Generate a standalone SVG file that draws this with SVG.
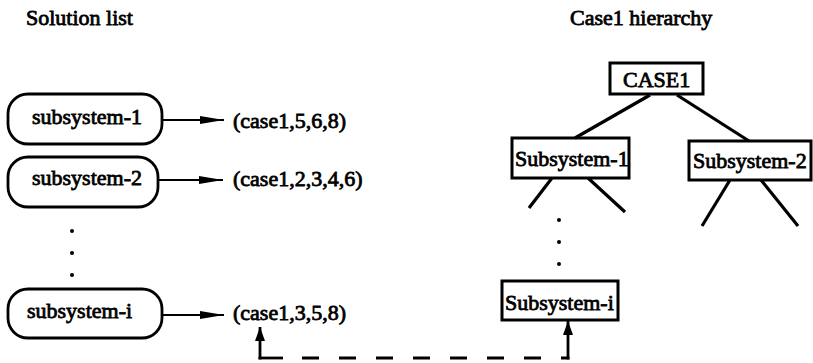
<svg xmlns="http://www.w3.org/2000/svg" width="813" height="363" viewBox="0 0 813 363">
  <style>
    .t { font-family: "Liberation Serif", "Times New Roman", serif; font-size: 22px; fill: #000; stroke: #000; stroke-width: 0.8; }
    .pill { fill: #fff; stroke: #000; stroke-width: 2.8; }
    .box { fill: #fff; stroke: #000; stroke-width: 3; }
    .edge { stroke: #000; stroke-width: 3.2; fill: none; }
    .arrow { stroke: #000; stroke-width: 2; fill: none; }
    .link { stroke: #000; stroke-width: 2.8; fill: none; }
    .dash { stroke: #000; stroke-width: 2.8; fill: none; stroke-dasharray: 17 20; }
    .dot { fill: #000; }
  </style>
  <defs>
    <marker id="head" viewBox="0 0 24 8" refX="24" refY="4" markerWidth="24" markerHeight="8" markerUnits="userSpaceOnUse" orient="auto">
      <path d="M0,0 L24,4 L0,8 z" fill="#000"/>
    </marker>
    <marker id="headUp" viewBox="0 0 14 10" refX="14" refY="5" markerWidth="14" markerHeight="10" markerUnits="userSpaceOnUse" orient="auto">
      <path d="M0,0 L14,5 L0,10 z" fill="#000"/>
    </marker>
  </defs>

  <rect width="813" height="363" fill="#fff"/>

  <!-- headings -->
  <text class="t" x="26" y="25">Solution list</text>
  <text class="t" x="570" y="25">Case1 hierarchy</text>

  <!-- solution list entries -->
  <g id="sol-1">
    <rect class="pill" x="8" y="94" width="154" height="50" rx="20"/>
    <text class="t" x="32" y="124">subsystem-1</text>
  </g>
  <g id="sol-2">
    <rect class="pill" x="8" y="157" width="150" height="50" rx="20"/>
    <text class="t" x="32" y="185">subsystem-2</text>
  </g>
  <g id="sol-i">
    <rect class="pill" x="8" y="289" width="154" height="49" rx="20"/>
    <text class="t" x="27" y="318">subsystem-i</text>
  </g>
  <g id="cases-1"><text class="t" x="233" y="128">(case1,5,6,8)</text></g>
  <g id="cases-2"><text class="t" x="233" y="186">(case1,2,3,4,6)</text></g>
  <g id="cases-i"><text class="t" x="233" y="320">(case1,3,5,8)</text></g>

  <!-- ellipsis between entries -->
  <g id="list-gap">
    <circle class="dot" cx="72" cy="231" r="2"/>
    <circle class="dot" cx="72" cy="253" r="2"/>
    <circle class="dot" cx="72" cy="275" r="2"/>
  </g>

  <!-- hierarchy nodes -->
  <g id="case1">
    <rect class="box" x="610" y="63" width="93" height="31"/>
    <text class="t" x="623" y="87">CASE1</text>
  </g>
  <g id="hier-sub-1">
    <rect class="box" x="512" y="138" width="117" height="40"/>
    <text class="t" x="515" y="166">Subsystem-1</text>
  </g>
  <g id="hier-sub-2">
    <rect class="box" x="689" y="141" width="122" height="39"/>
    <text class="t" x="693" y="168">Subsystem-2</text>
  </g>
  <g id="hier-sub-i">
    <rect class="box" x="502" y="281" width="116" height="39"/>
    <text class="t" x="505" y="310">Subsystem-i</text>
  </g>
  <g id="hier-gap">
    <circle class="dot" cx="559" cy="220" r="2"/>
    <circle class="dot" cx="559" cy="242" r="2"/>
    <circle class="dot" cx="559" cy="264" r="2"/>
  </g>

  <g id="connectors">
    <!-- list entries to their case lists -->
    <line class="arrow" x1="162" y1="120" x2="224" y2="120" marker-end="url(#head)"/>
    <line class="arrow" x1="158" y1="180" x2="223" y2="180" marker-end="url(#head)"/>
    <line class="arrow" x1="162" y1="315" x2="224" y2="315" marker-end="url(#head)"/>
    <!-- tree edges -->
    <line class="edge" x1="650" y1="95" x2="575" y2="138"/>
    <line class="edge" x1="677" y1="95" x2="749" y2="141"/>
    <line class="edge" x1="552" y1="178" x2="529" y2="208"/>
    <line class="edge" x1="588" y1="178" x2="625" y2="212"/>
    <line class="edge" x1="730" y1="180" x2="702" y2="226"/>
    <line class="edge" x1="761" y1="180" x2="798" y2="226"/>
    <!-- link between the list entry and the hierarchy node -->
    <line class="link" x1="260" y1="359.4" x2="260" y2="327" stroke-width="3" marker-end="url(#headUp)"/>
    <line class="link" x1="568" y1="359.4" x2="568" y2="321" stroke-width="3" marker-end="url(#headUp)"/>
    <line class="link" x1="258.5" y1="358" x2="283" y2="358"/>
    <line class="dash" x1="302" y1="358" x2="569.5" y2="358"/>
  </g>
</svg>
